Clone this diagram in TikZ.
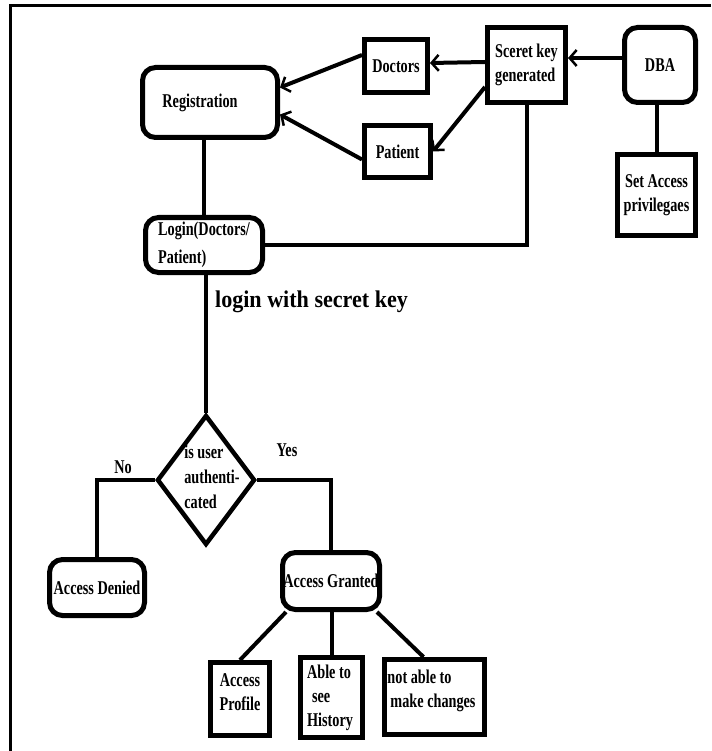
\documentclass[tikz,border=0pt]{standalone}
\usepackage{fontspec}
\newfontfamily\nfb{Liberation Serif Bold}[FakeStretch=0.73]
\newfontfamily\bigfb{Liberation Serif Bold}[FakeStretch=0.92]
\usetikzlibrary{arrows.meta,shapes.geometric}
\begin{document}
\begin{tikzpicture}[x=1pt,y=-1pt,
  sq/.style={draw, line width=5pt, inner sep=0pt, font=\nfb\fontsize{19.5pt}{24pt}\selectfont},
  rnd/.style={sq, rounded corners=13pt},
  conn/.style={line width=4pt},
  arr/.style={conn, -{Straight Barb[length=7pt,width=16pt,line width=2.5pt]}},
  lbl/.style={inner sep=0pt, font=\nfb\fontsize{19.5pt}{24pt}\selectfont, align=left}]
\useasboundingbox (0,0) rectangle (711,751);
% frame
\draw[line width=3pt] (10,751) -- (10,6) -- (711,6);

% top part
\node[rnd, minimum width=135pt, minimum height=70pt] (reg) at (210,102.5) {};
\node[lbl] (regt) at (200,103) {Registration};
\node[sq, minimum width=63pt, minimum height=53pt] (doc) at (396,66) {Doctors};
\node[sq, minimum width=66pt, minimum height=52pt] (pat) at (397.5,151.5) {Patient};
\node[sq, minimum width=78pt, minimum height=75pt, align=left] (key) at (526.5,65) {Sceret key\\generated};
\node[rnd, minimum width=71pt, minimum height=75pt] (dba) at (660,65) {DBA};
\node[sq, minimum width=78pt, minimum height=81pt, align=center] (acc) at (656.5,195) {Set Access\\privilegaes};
\node[rnd, minimum width=117pt, minimum height=55pt, align=left, font=\nfb\fontsize{19.5pt}{28pt}\selectfont] (login) at (204,245) {Login(Doctors/\\Patient)};
\node[inner sep=0pt, font=\bigfb\fontsize{24pt}{28pt}\selectfont] (lwk) at (311.5,302) {login with secret key};

% decision
\node[diamond, draw, line width=4.5pt, minimum width=98pt, minimum height=130pt, inner sep=0pt] (dia) at (206,480) {};
\node[lbl, font=\nfb\fontsize{19.5pt}{25pt}\selectfont] (diat) at (212,477) {is user\\authenti-\\cated};
\node[lbl] (no) at (123,467) {No};
\node[lbl] (yes) at (287,450) {Yes};

\node[rnd, minimum width=95pt, minimum height=56pt] (den) at (97,587.5) {Access Denied};
\node[rnd, minimum width=97pt, minimum height=57pt] (gra) at (331,581) {Access Granted};

% bottom boxes
\node[sq, minimum width=59pt, minimum height=73pt] (prof) at (240,699) {};
\node[lbl, align=center] (proft) at (240,692.5) {Access\\Profile};
\node[sq, minimum width=62pt, minimum height=80pt] (able) at (331.5,697.5) {};
\node[lbl] (ablet) at (330,698) {Able to\\\hspace*{5pt}see\\History};
\node[sq, minimum width=100pt, minimum height=75pt] (nab) at (434.5,697) {};
\node[lbl] (nabt) at (431.5,691) {not able to\\\hspace*{3pt}make changes};

% connectors
\draw[conn] (reg.south -| login.north) -- (login.north);
\draw[conn] (login.south -| dia.north) -- (dia.north);
\draw[conn] (login.east) -| (key.south);
\draw[arr] ([yshift=7pt]dba.west) -- ([yshift=7pt]key.east);
\draw[arr] ([yshift=3pt]key.west) -- ([yshift=3pt]doc.east);
\draw[arr] ([yshift=-22pt]key.west) -- (pat.east);
\draw[arr] ([yshift=11pt]doc.west) -- ([yshift=15pt]reg.east);
\draw[arr] ([yshift=-8pt]pat.west) -- ([yshift=-12pt]reg.east);
\draw[conn] (dba.south -| acc.north) -- (acc.north);
\draw[conn] (dia.west) -| (den.north);
\draw[conn] (dia.east) -| (gra.north);
\draw[conn] ([xshift=-45pt]gra.south) -- (prof.north);
\draw[conn] (gra.south -| able.north) -- (able.north);
\draw[conn] ([xshift=46pt]gra.south) -- ([xshift=-11pt]nab.north);
\end{tikzpicture}
\end{document}
